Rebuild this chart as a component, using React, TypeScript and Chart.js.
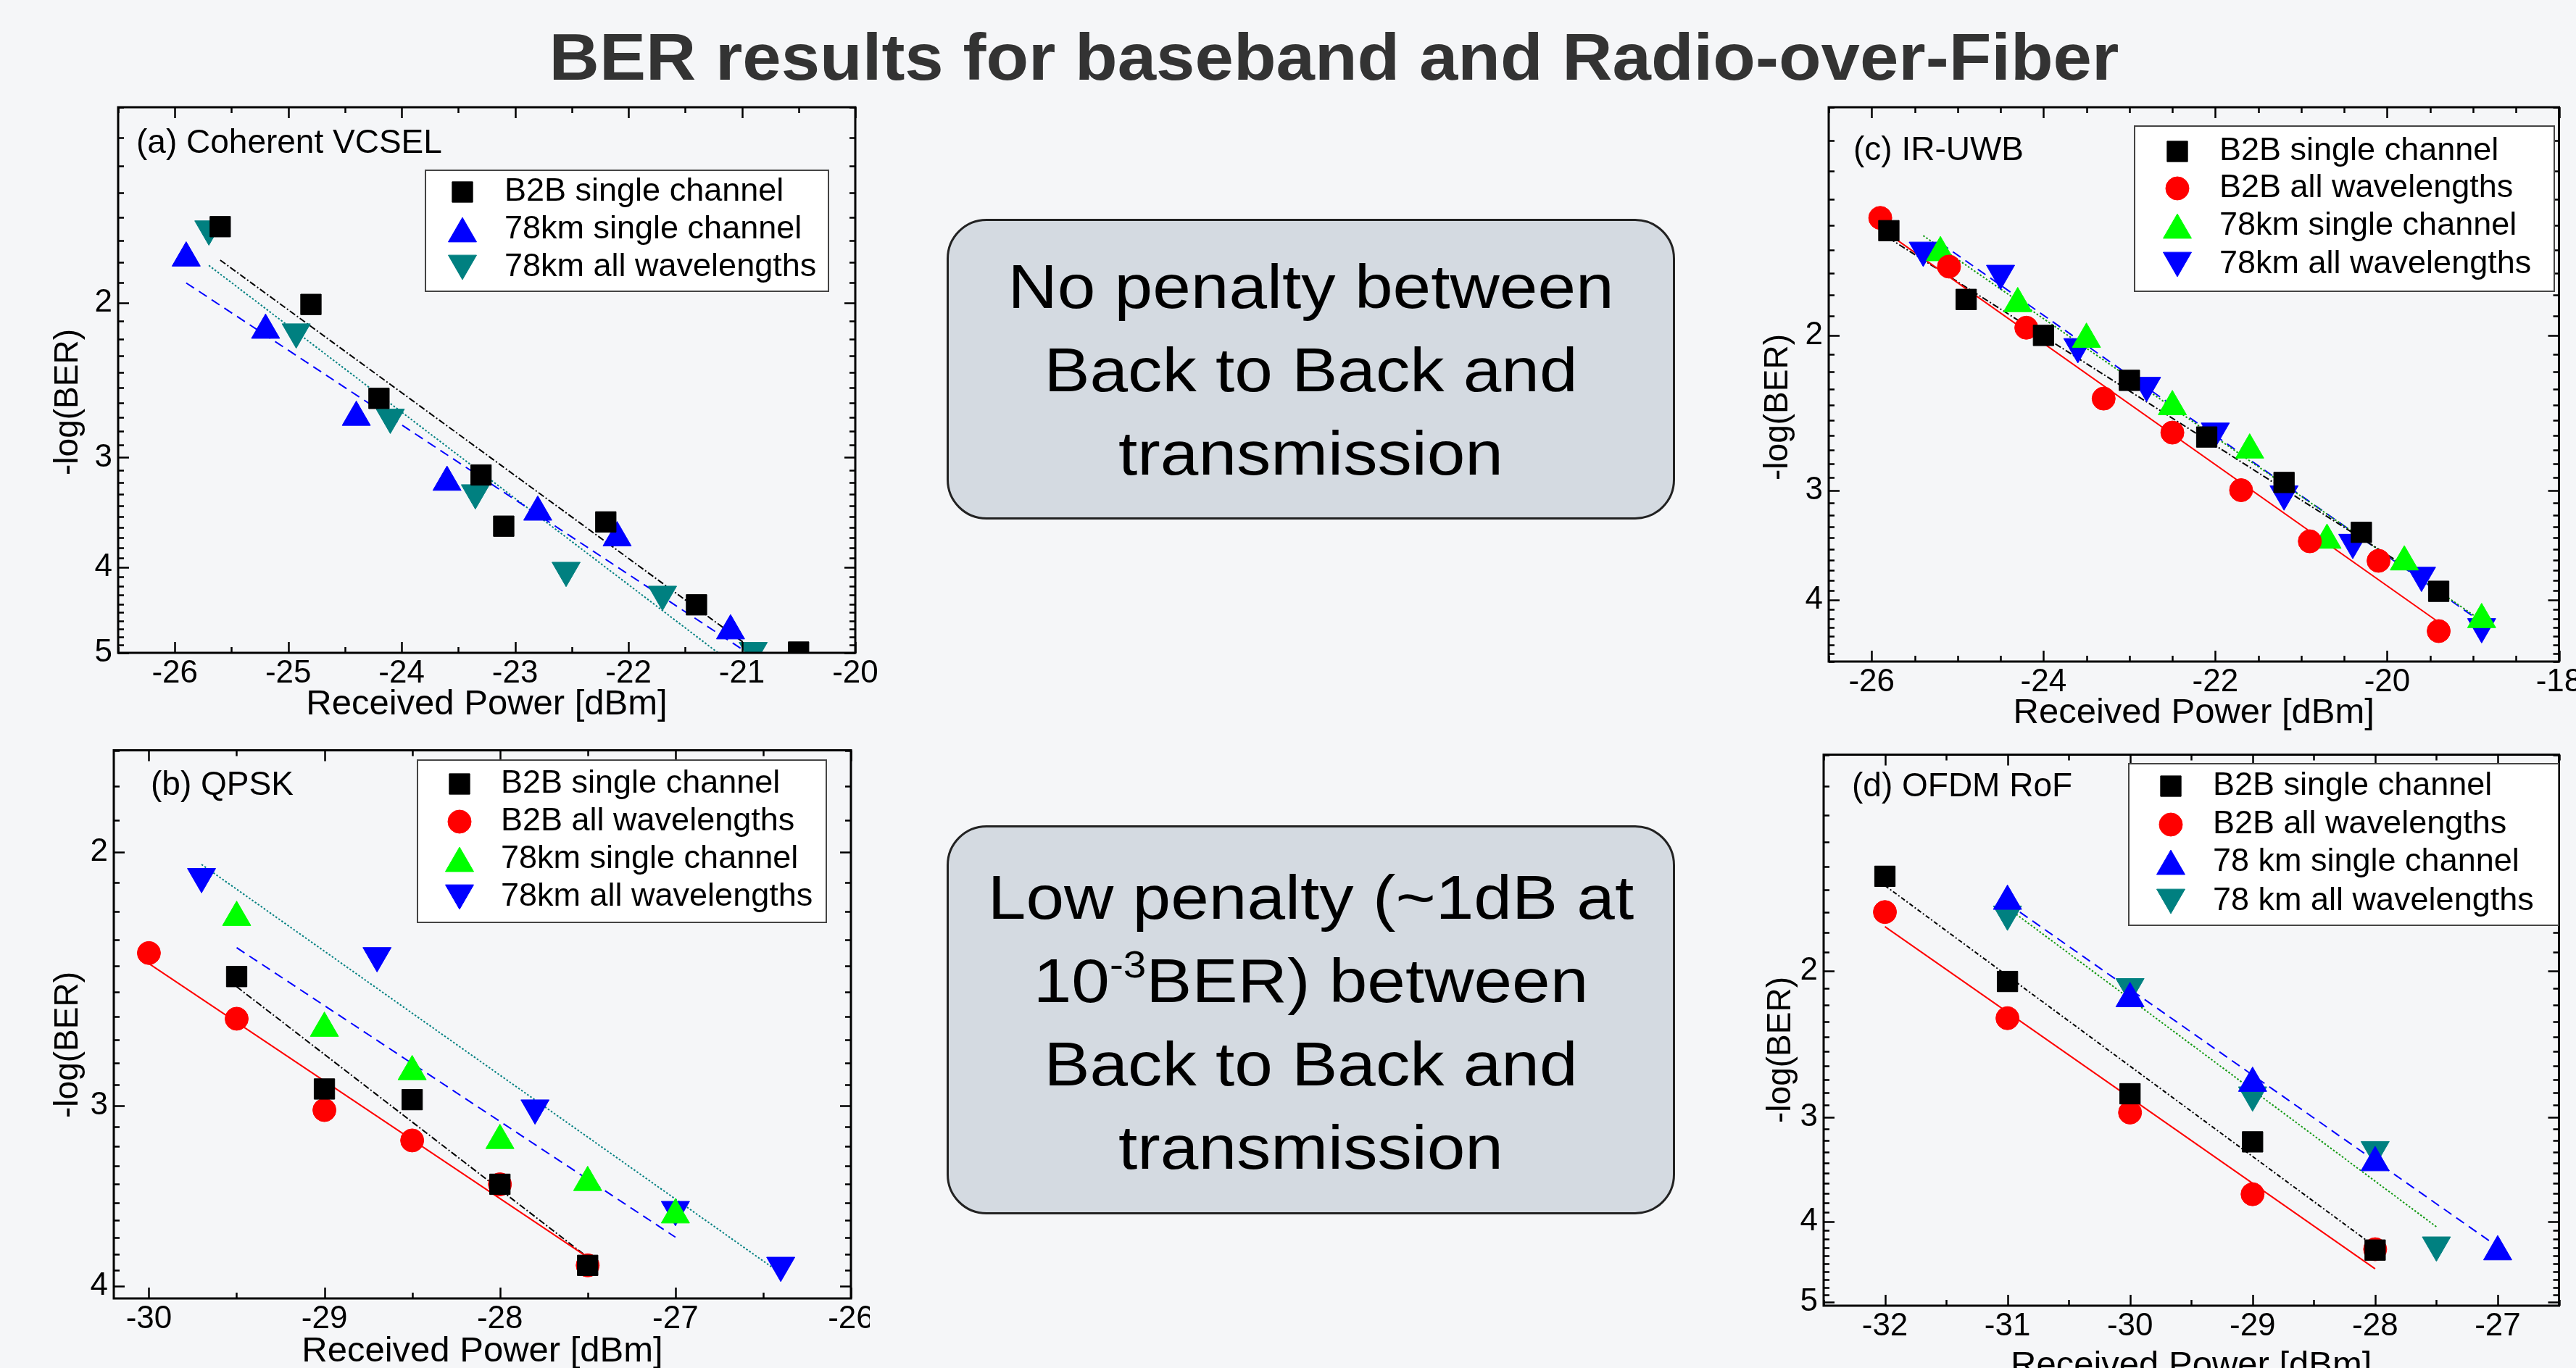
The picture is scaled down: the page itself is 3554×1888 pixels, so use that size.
import React, { useEffect, useRef } from "react";
import { Chart, registerables } from "chart.js";

Chart.register(...registerables);

const FONT = "'Liberation Sans', Arial, Helvetica, sans-serif";
const BG = "#f5f6f8";
const BOX_BG = "#d4dae1";

// ---------------- Panel (a) Coherent VCSEL ----------------
const aB2BSingleX = [-25.6, -24.8, -24.2, -23.3, -23.1, -22.2, -21.4, -20.5];
const aB2BSingleY = [1.64, 2.01, 2.57, 3.14, 3.59, 3.55, 4.41, 4.99];
const a78SingleX = [-25.9, -25.2, -24.4, -23.6, -22.8, -22.1, -21.1];
const a78SingleY = [1.78, 2.15, 2.7, 3.2, 3.46, 3.7, 4.72];
const a78AllX = [-25.7, -24.93, -24.1, -23.35, -22.55, -21.7, -20.9];
const a78AllY = [1.65, 2.16, 2.7, 3.29, 4.03, 4.29, 4.97];
const aFitB2BX = [-25.6, -20.86];
const aFitB2BY = [1.79, 5.0];
const aFitSingleX = [-25.9, -20.95];
const aFitSingleY = [1.9, 5.0];
const aFitAllX = [-25.7, -21.21];
const aFitAllY = [1.815, 5.0];
const aXTicks = [-26, -25, -24, -23, -22, -21, -20];
const aYTicks = [2, 3, 4, 5];

// ---------------- Panel (b) QPSK ----------------
const bB2BSingleX = [-29.5, -29, -28.5, -28, -27.5];
const bB2BSingleY = [2.44, 2.92, 2.97, 3.4, 3.87];
const bB2BAllX = [-30, -29.5, -29, -28.5, -28, -27.5];
const bB2BAllY = [2.35, 2.61, 3.02, 3.17, 3.4, 3.87];
const b78SingleX = [-29.5, -29, -28.5, -28, -27.5, -27];
const b78SingleY = [2.22, 2.65, 2.84, 3.17, 3.39, 3.57];
const b78AllX = [-29.7, -28.7, -27.8, -27.0, -26.4];
const b78AllY = [2.08, 2.36, 3.01, 3.54, 3.87];
const bFitB2BAllX = [-30, -27.5];
const bFitB2BAllY = [2.39, 3.82];
const bFitB2BSingleX = [-29.5, -27.5];
const bFitB2BSingleY = [2.48, 3.82];
const bFit78SingleX = [-29.5, -27];
const bFit78SingleY = [2.33, 3.7];
const bFit78AllX = [-29.7, -26.4];
const bFit78AllY = [2.04, 3.92];
const bXTicks = [-30, -29, -28, -27, -26];
const bYTicks = [2, 3, 4];

// ---------------- Panel (c) IR-UWB ----------------
const cB2BSingleX = [-25.8, -24.9, -24.0, -23.0, -22.1, -21.2, -20.3, -19.4];
const cB2BSingleY = [1.52, 1.82, 2.0, 2.25, 2.61, 2.94, 3.35, 3.91];
const cB2BAllX = [-25.9, -25.1, -24.2, -23.3, -22.5, -21.7, -20.9, -20.1, -19.4];
const cB2BAllY = [1.47, 1.67, 1.96, 2.36, 2.58, 3.0, 3.43, 3.61, 4.34];
const c78SingleX = [-25.2, -24.3, -23.5, -22.5, -21.6, -20.7, -19.8, -18.9];
const c78SingleY = [1.61, 1.84, 2.02, 2.41, 2.7, 3.42, 3.62, 4.21];
const c78AllX = [-25.4, -24.5, -23.6, -22.8, -22.0, -21.2, -20.4, -19.6, -18.9];
const c78AllY = [1.6, 1.7, 2.06, 2.28, 2.57, 3.03, 3.44, 3.75, 4.29];
const cFitB2BAllX = [-25.9, -19.4];
const cFitB2BAllY = [1.51, 4.24];
const cFitB2BSingleX = [-25.8, -19.4];
const cFitB2BSingleY = [1.55, 3.87];
const cFit78SingleX = [-25.4, -18.8];
const cFit78SingleY = [1.54, 4.29];
const cFit78AllX = [-25.2, -18.9];
const cFit78AllY = [1.57, 4.24];
const cXTicks = [-26, -24, -22, -20, -18];
const cYTicks = [2, 3, 4];

// ---------------- Panel (d) OFDM RoF ----------------
const dB2BSingleX = [-32, -31, -30, -29, -28];
const dB2BSingleY = [1.54, 2.06, 2.81, 3.21, 4.33];
const dB2BAllX = [-32, -31, -30, -29, -28];
const dB2BAllY = [1.7, 2.28, 2.96, 3.71, 4.32];
const d78SingleX = [-31, -30, -29, -28, -27];
const d78SingleY = [1.65, 2.16, 2.73, 3.4, 4.35];
const d78AllX = [-31, -30, -29, -28, -27.5];
const d78AllY = [1.71, 2.09, 2.82, 3.28, 4.27];
const dFitB2BAllX = [-32, -28];
const dFitB2BAllY = [1.77, 4.56];
const dFitB2BSingleX = [-32, -28];
const dFitB2BSingleY = [1.58, 4.29];
const dFit78AllX = [-31, -27.5];
const dFit78AllY = [1.68, 4.06];
const dFit78SingleX = [-31, -27];
const dFit78SingleY = [1.66, 4.29];
const dXTicks = [-32, -31, -30, -29, -28, -27];
const dYTicks = [2, 3, 4, 5];

// ---------------- styling helpers ----------------
const R_SQ = 20;
const R_CIRC = 16;
const R_TRI = 22.5;
const DASH_DOT = [9, 3, 2, 3];
const DASHED = [13, 8];
const DOTTED = [2.5, 2.5];

function range(a: number, b: number, step: number): number[] {
  const out: number[] = [];
  for (let v = a; v <= b + 1e-9; v += step) out.push(Math.round(v * 1000) / 1000);
  return out;
}

type Shape = "rect" | "circle" | "tri" | "triDown";
interface Series { label: string; xs: number[]; ys: number[]; shape: Shape; color: string; }
interface Fit { xs: number[]; ys: number[]; color: string; dash: number[]; }
interface Panel {
  key: string;
  canvas: { left: number; top: number; width: number; height: number };
  area: { left: number; top: number; right: number; bottom: number };
  xMin: number; xMax: number; xTicks: number[]; xMinor: number[];
  yMin: number; yMax: number; yTicks: number[]; yMinor: number[];
  label: string; labelPos: [number, number];
  legendBox: [number, number, number, number]; legendRows: number[]; legendMarkerX: number; legendTextX: number;
  xTitleY: number; yTitlePos: [number, number];
  series: Series[]; fits: Fit[];
}

const panels: Panel[] = [
  {
    key: "a",
    canvas: { left: 60, top: 100, width: 1170, height: 910 },
    area: { left: 163, top: 148, right: 1180, bottom: 901 },
    xMin: -26.5, xMax: -20, xTicks: aXTicks, xMinor: range(-26.5, -20, 0.5),
    yMin: 1.2, yMax: 5.0, yTicks: aYTicks, yMinor: range(1.2, 5.0, 0.1),
    label: "(a) Coherent VCSEL", labelPos: [188, 198],
    legendBox: [587, 235, 1143, 402], legendRows: [265, 317, 369], legendMarkerX: 638, legendTextX: 696,
    xTitleY: 972, yTitlePos: [94, 555],
    series: [
      { label: "B2B single channel", xs: aB2BSingleX, ys: aB2BSingleY, shape: "rect", color: "#000000" },
      { label: "78km single channel", xs: a78SingleX, ys: a78SingleY, shape: "tri", color: "#0000ff" },
      { label: "78km all wavelengths", xs: a78AllX, ys: a78AllY, shape: "triDown", color: "#008080" },
    ],
    fits: [
      { xs: aFitB2BX, ys: aFitB2BY, color: "#000000", dash: DASH_DOT },
      { xs: aFitSingleX, ys: aFitSingleY, color: "#0000ff", dash: DASHED },
      { xs: aFitAllX, ys: aFitAllY, color: "#008080", dash: DOTTED },
    ],
  },
  {
    key: "b",
    canvas: { left: 60, top: 1012, width: 1140, height: 876 },
    area: { left: 157, top: 1026, right: 1174, bottom: 1792 },
    xMin: -30.2, xMax: -26, xTicks: bXTicks, xMinor: range(-30, -26, 0.5),
    yMin: 1.7, yMax: 4.08, yTicks: bYTicks, yMinor: range(1.7, 4.0, 0.1),
    label: "(b) QPSK", labelPos: [208, 1084],
    legendBox: [576, 1049, 1140, 1273], legendRows: [1082, 1134, 1186, 1238], legendMarkerX: 634, legendTextX: 691,
    xTitleY: 1865, yTitlePos: [94, 1442],
    series: [
      { label: "B2B single channel", xs: bB2BSingleX, ys: bB2BSingleY, shape: "rect", color: "#000000" },
      { label: "B2B all wavelengths", xs: bB2BAllX, ys: bB2BAllY, shape: "circle", color: "#ff0000" },
      { label: "78km single channel", xs: b78SingleX, ys: b78SingleY, shape: "tri", color: "#00ff00" },
      { label: "78km all wavelengths", xs: b78AllX, ys: b78AllY, shape: "triDown", color: "#0000ff" },
    ],
    fits: [
      { xs: bFitB2BAllX, ys: bFitB2BAllY, color: "#ff0000", dash: [] },
      { xs: bFitB2BSingleX, ys: bFitB2BSingleY, color: "#000000", dash: DASH_DOT },
      { xs: bFit78SingleX, ys: bFit78SingleY, color: "#0000ff", dash: DASHED },
      { xs: bFit78AllX, ys: bFit78AllY, color: "#008080", dash: DOTTED },
    ],
  },
  {
    key: "c",
    canvas: { left: 2400, top: 100, width: 1154, height: 915 },
    area: { left: 2523, top: 148, right: 3550, bottom: 913 },
    xMin: -26.5, xMax: -18, xTicks: cXTicks, xMinor: range(-26.5, -18, 0.5),
    yMin: 1.1, yMax: 4.7, yTicks: cYTicks, yMinor: range(1.1, 4.7, 0.1),
    label: "(c) IR-UWB", labelPos: [2557, 208],
    legendBox: [2945, 174, 3524, 402], legendRows: [209, 260, 312, 365], legendMarkerX: 3004, legendTextX: 3062,
    xTitleY: 984, yTitlePos: [2453, 562],
    series: [
      { label: "B2B single channel", xs: cB2BSingleX, ys: cB2BSingleY, shape: "rect", color: "#000000" },
      { label: "B2B all wavelengths", xs: cB2BAllX, ys: cB2BAllY, shape: "circle", color: "#ff0000" },
      { label: "78km single channel", xs: c78SingleX, ys: c78SingleY, shape: "tri", color: "#00ff00" },
      { label: "78km all wavelengths", xs: c78AllX, ys: c78AllY, shape: "triDown", color: "#0000ff" },
    ],
    fits: [
      { xs: cFitB2BAllX, ys: cFitB2BAllY, color: "#ff0000", dash: [] },
      { xs: cFitB2BSingleX, ys: cFitB2BSingleY, color: "#000000", dash: DASH_DOT },
      { xs: cFit78SingleX, ys: cFit78SingleY, color: "#119911", dash: DOTTED },
      { xs: cFit78AllX, ys: cFit78AllY, color: "#0000ff", dash: DASHED },
    ],
  },
  {
    key: "d",
    canvas: { left: 2400, top: 1018, width: 1154, height: 870 },
    area: { left: 2516, top: 1031, right: 3550, bottom: 1802 },
    xMin: -32.5, xMax: -26.5, xTicks: dXTicks, xMinor: range(-32.5, -26.5, 0.5),
    yMin: 1.1, yMax: 5.05, yTicks: dYTicks, yMinor: range(1.1, 5.0, 0.1),
    label: "(d) OFDM RoF", labelPos: [2555, 1086],
    legendBox: [2937, 1054, 3530, 1277], legendRows: [1085, 1138, 1190, 1244], legendMarkerX: 2995, legendTextX: 3053,
    xTitleY: 1885, yTitlePos: [2457, 1449],
    series: [
      { label: "B2B single channel", xs: dB2BSingleX, ys: dB2BSingleY, shape: "rect", color: "#000000" },
      { label: "B2B all wavelengths", xs: dB2BAllX, ys: dB2BAllY, shape: "circle", color: "#ff0000" },
      { label: "78 km single channel", xs: d78SingleX, ys: d78SingleY, shape: "tri", color: "#0000ff" },
      { label: "78 km all wavelengths", xs: d78AllX, ys: d78AllY, shape: "triDown", color: "#008080" },
    ],
    fits: [
      { xs: dFitB2BAllX, ys: dFitB2BAllY, color: "#ff0000", dash: [] },
      { xs: dFitB2BSingleX, ys: dFitB2BSingleY, color: "#000000", dash: [6, 3, 2, 3] },
      { xs: dFit78AllX, ys: dFit78AllY, color: "#119911", dash: DOTTED },
      { xs: dFit78SingleX, ys: dFit78SingleY, color: "#0000ff", dash: DASHED },
    ],
  },
];

function drawMarker(ctx: CanvasRenderingContext2D, shape: Shape, x: number, y: number, color: string) {
  ctx.save();
  ctx.fillStyle = color;
  ctx.strokeStyle = color;
  ctx.lineWidth = 1;
  ctx.beginPath();
  if (shape === "rect") {
    const s = R_SQ * Math.SQRT1_2;
    ctx.rect(x - s, y - s, 2 * s, 2 * s);
  } else if (shape === "circle") {
    ctx.arc(x, y, R_CIRC, 0, Math.PI * 2);
  } else {
    const rot = shape === "triDown" ? Math.PI : 0;
    const cy = shape === "triDown" ? y - R_TRI / 4 : y + R_TRI / 4;
    for (let k = 0; k < 3; k++) {
      const a = rot + (k * 2 * Math.PI) / 3;
      const px = x + Math.sin(a) * R_TRI;
      const py = cy - Math.cos(a) * R_TRI;
      if (k === 0) ctx.moveTo(px, py);
      else ctx.lineTo(px, py);
    }
    ctx.closePath();
  }
  ctx.fill();
  ctx.stroke();
  ctx.restore();
}

function makeDeco(p: Panel) {
  const ox = p.canvas.left;
  const oy = p.canvas.top;
  return {
    id: "deco_" + p.key,
    afterDatasetsDraw(chart: any) {
      const ctx: CanvasRenderingContext2D = chart.ctx;
      const ca = chart.chartArea;
      const xs = chart.scales.x;
      const ys = chart.scales.y;
      ctx.save();
      ctx.strokeStyle = "#000";
      ctx.lineWidth = 2.5;
      ctx.beginPath();
      for (const v of p.xMinor) {
        const px = Math.round(xs.getPixelForValue(v)) + 0.5;
        const major = p.xTicks.some((t) => Math.abs(t - v) < 1e-6);
        const L = major ? 15 : 8;
        ctx.moveTo(px, ca.bottom);
        ctx.lineTo(px, ca.bottom - L);
        ctx.moveTo(px, ca.top);
        ctx.lineTo(px, ca.top + L);
      }
      for (const v of p.yMinor) {
        if (v < p.yMin - 1e-9 || v > p.yMax + 1e-9) continue;
        const py = Math.round(ys.getPixelForValue(v)) + 0.5;
        const major = p.yTicks.some((t) => Math.abs(t - v) < 1e-6);
        const L = major ? 15 : 8;
        ctx.moveTo(ca.left, py);
        ctx.lineTo(ca.left + L, py);
        ctx.moveTo(ca.right, py);
        ctx.lineTo(ca.right - L, py);
      }
      ctx.stroke();
      ctx.lineWidth = 3;
      ctx.strokeRect(ca.left, ca.top, ca.right - ca.left, ca.bottom - ca.top);
      ctx.restore();
    },
    afterDraw(chart: any) {
      const ctx: CanvasRenderingContext2D = chart.ctx;
      const ca = chart.chartArea;
      ctx.save();
      // panel label
      ctx.fillStyle = "#000";
      ctx.font = `46px ${FONT}`;
      ctx.textAlign = "left";
      ctx.textBaseline = "middle";
      ctx.fillText(p.label, p.labelPos[0] - ox, p.labelPos[1] - oy);
      // legend
      const [x1, y1, x2, y2] = p.legendBox;
      ctx.fillStyle = "#ffffff";
      ctx.fillRect(x1 - ox, y1 - oy, x2 - x1, y2 - y1);
      ctx.strokeStyle = "#444";
      ctx.lineWidth = 2;
      ctx.strokeRect(x1 - ox, y1 - oy, x2 - x1, y2 - y1);
      ctx.font = `45px ${FONT}`;
      p.series.forEach((s, i) => {
        const ry = p.legendRows[i] - oy;
        drawMarker(ctx, s.shape, p.legendMarkerX - ox, ry, s.color);
        ctx.fillStyle = "#000";
        ctx.textAlign = "left";
        ctx.textBaseline = "middle";
        ctx.fillText(s.label, p.legendTextX - ox, ry);
      });
      // axis titles
      ctx.fillStyle = "#000";
      ctx.font = `49px ${FONT}`;
      ctx.textAlign = "center";
      ctx.textBaseline = "middle";
      ctx.fillText("Received Power [dBm]", (ca.left + ca.right) / 2, p.xTitleY - oy);
      ctx.save();
      ctx.translate(p.yTitlePos[0] - ox, p.yTitlePos[1] - oy);
      ctx.rotate(-Math.PI / 2);
      ctx.font = `46px ${FONT}`;
      ctx.fillText("-log(BER)", 0, 0);
      ctx.restore();
      ctx.restore();
    },
  };
}

function PanelChart({ panel }: { panel: Panel }) {
  const ref = useRef<HTMLCanvasElement | null>(null);
  useEffect(() => {
    const canvas = ref.current;
    if (!canvas) return;
    const p = panel;
    const cv = p.canvas;
    const datasets: any[] = [];
    p.series.forEach((s) => {
      datasets.push({
        label: s.label,
        data: s.xs.map((x, i) => ({ x, y: s.ys[i] })),
        showLine: false,
        pointStyle: s.shape === "rect" ? "rect" : s.shape === "circle" ? "circle" : "triangle",
        pointRotation: s.shape === "triDown" ? 180 : 0,
        pointRadius: s.shape === "rect" ? R_SQ : s.shape === "circle" ? R_CIRC : R_TRI,
        pointBackgroundColor: s.color,
        pointBorderColor: s.color,
        pointBorderWidth: 1,
        pointHoverRadius: 0,
        clip: 0,
        order: 0,
      });
    });
    p.fits.forEach((f) => {
      datasets.push({
        label: "fit",
        data: f.xs.map((x, i) => ({ x, y: f.ys[i] })),
        showLine: true,
        pointRadius: 0,
        borderColor: f.color,
        borderWidth: 2,
        borderDash: f.dash,
        fill: false,
        tension: 0,
        clip: 0,
        order: 1,
      });
    });
    const tickFont = { family: FONT, size: 44 };
    const chart = new Chart(canvas, {
      type: "scatter",
      data: { datasets },
      plugins: [makeDeco(p)],
      options: {
        responsive: false,
        animation: false,
        devicePixelRatio: 1,
        events: [],
        layout: {
          padding: {
            left: 0,
            top: p.area.top - cv.top,
            right: cv.left + cv.width - p.area.right,
            bottom: 0,
          },
        },
        plugins: { legend: { display: false }, tooltip: { enabled: false }, title: { display: false } },
        scales: {
          x: {
            type: "linear",
            position: "bottom",
            min: p.xMin,
            max: p.xMax,
            grid: { display: false, drawTicks: false },
            border: { display: false },
            ticks: {
              autoSkip: false,
              maxRotation: 0,
              minRotation: 0,
              padding: 2,
              color: "#000",
              font: tickFont,
              callback: (v: any) => String(v),
            },
            afterBuildTicks: (s: any) => {
              s.ticks = p.xTicks.map((v) => ({ value: v }));
            },
            afterFit: (s: any) => {
              s.height = cv.top + cv.height - p.area.bottom;
              s.paddingLeft = 0;
              s.paddingRight = 0;
            },
          },
          y: {
            type: "logarithmic",
            position: "left",
            reverse: true,
            min: p.yMin,
            max: p.yMax,
            grid: { display: false, drawTicks: false },
            border: { display: false },
            ticks: {
              autoSkip: false,
              padding: 8,
              color: "#000",
              font: tickFont,
              callback: (v: any) => String(v),
            },
            afterBuildTicks: (s: any) => {
              s.ticks = p.yTicks.map((v) => ({ value: v }));
            },
            afterFit: (s: any) => {
              s.width = p.area.left - cv.left;
              s.paddingTop = 0;
              s.paddingBottom = 0;
            },
          },
        },
      } as any,
    });
    return () => chart.destroy();
  }, [panel]);
  const cv = panel.canvas;
  return (
    <canvas
      ref={ref}
      width={cv.width}
      height={cv.height}
      style={{ position: "absolute", left: cv.left, top: cv.top, width: cv.width, height: cv.height }}
    />
  );
}

const boxStyle: React.CSSProperties = {
  position: "absolute",
  left: 1306,
  width: 1005,
  boxSizing: "border-box",
  border: "3px solid #222",
  borderRadius: 55,
  background: BOX_BG,
  textAlign: "center",
  fontSize: 86,
  lineHeight: "115px",
  color: "#000",
  whiteSpace: "nowrap",
};

export default function App() {
  return (
    <div
      style={{
        position: "absolute",
        left: 0,
        top: 0,
        width: 3554,
        height: 1888,
        background: BG,
        overflow: "hidden",
        fontFamily: FONT,
      }}
    >
      <div
        style={{
          position: "absolute",
          left: 340,
          top: 33,
          width: 3000,
          textAlign: "center",
          fontSize: 91,
          lineHeight: "91px",
          fontWeight: "bold",
          color: "#333",
          whiteSpace: "nowrap",
        }}
      >
        <span style={{ display: "inline-block", transform: "scaleX(1.055)" }}>
          BER results for baseband and Radio-over-Fiber
        </span>
      </div>
      {panels.map((p) => (
        <PanelChart key={p.key} panel={p} />
      ))}
      <div style={{ ...boxStyle, top: 302, height: 415, paddingTop: 33 }}>
        <div style={{ transform: "scaleX(1.1)" }}>
          <div>No penalty between</div>
          <div>Back to Back and</div>
          <div>transmission</div>
        </div>
      </div>
      <div style={{ ...boxStyle, top: 1139, height: 537, paddingTop: 39 }}>
        <div style={{ transform: "scaleX(1.1)" }}>
          <div>Low penalty (~1dB at</div>
          <div>
            10
            <span style={{ fontSize: "0.6em", position: "relative", top: "-0.65em", lineHeight: 0 }}>-3</span>
            BER) between
          </div>
          <div>Back to Back and</div>
          <div>transmission</div>
        </div>
      </div>
    </div>
  );
}
